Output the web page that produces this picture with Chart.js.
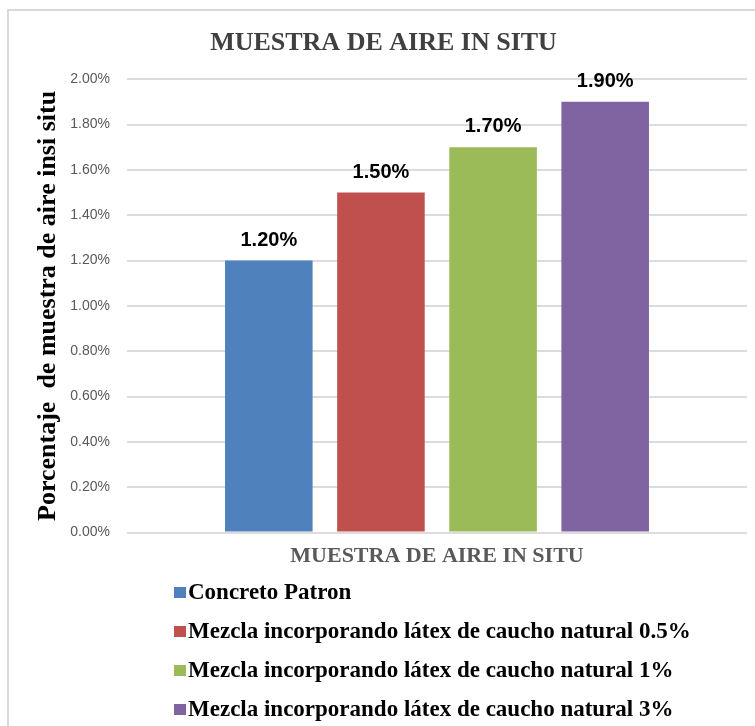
<!DOCTYPE html>
<html>
<head>
<meta charset="utf-8">
<script src="https://cdn.jsdelivr.net/npm/chart.js"></script>
<style>
  html, body { margin: 0; padding: 0; background: #fff; }
  #marco { position: absolute; left: 7px; top: 9px; width: 800px; height: 800px; border: 2px solid #d9d9d9; }
  #wrap { position: absolute; left: 0; top: 0; width: 755px; height: 726px; }
</style>
</head>
<body>
<div id="marco"></div>
<div id="wrap"><canvas id="grafico"></canvas></div>
<script>
// datos
const categorias = ['MUESTRA DE AIRE IN SITU'];
const series = [
  'Concreto Patron',
  'Mezcla incorporando látex de caucho natural 0.5%',
  'Mezcla incorporando látex de caucho natural 1%',
  'Mezcla incorporando látex de caucho natural 3%'
];
const valores = [1.20, 1.50, 1.70, 1.90]; // en %
const colores = ['#4f81bd', '#c0504d', '#9bbb59', '#8064a2'];

const serif = '"Liberation Serif", "Times New Roman", serif';
const sans = '"Liberation Sans", Arial, sans-serif';

// etiquetas encima de cada barra
const etiquetas = {
  id: 'etiquetas',
  afterDatasetsDraw(chart) {
    const ctx = chart.ctx;
    ctx.save();
    ctx.font = 'bold 20px ' + sans;
    ctx.fillStyle = '#000';
    ctx.textAlign = 'center';
    ctx.textBaseline = 'alphabetic';
    chart.data.datasets.forEach((ds, i) => {
      const bar = chart.getDatasetMeta(i).data[0];
      ctx.fillText(ds.data[0].toFixed(2) + '%', bar.x, bar.y - 15);
    });
    ctx.restore();
  }
};

// leyenda vertical debajo del eje
const leyenda = {
  id: 'leyenda',
  afterDraw(chart) {
    const ctx = chart.ctx;
    const x0 = chart.chartArea.left + 47;
    let y = chart.scales.x.bottom + 19;
    ctx.save();
    ctx.font = 'bold 23px ' + serif;
    ctx.textBaseline = 'middle';
    ctx.textAlign = 'left';
    chart.data.datasets.forEach((ds) => {
      ctx.fillStyle = ds.backgroundColor;
      ctx.fillRect(x0, y - 5, 12, 11);
      ctx.fillStyle = '#000';
      ctx.fillText(ds.label, x0 + 14, y + 1);
      y += 39;
    });
    ctx.restore();
  }
};

const ctx = document.getElementById('grafico').getContext('2d');
const grafico = new Chart(ctx, {
  type: 'bar',
  data: {
    labels: categorias,
    datasets: series.map((s, i) => ({
      label: s,
      data: [valores[i]],
      backgroundColor: colores[i],
      categoryPercentage: 0.7234,
      barPercentage: 0.781
    }))
  },
  options: {
    responsive: true,
    maintainAspectRatio: false,
    animation: false,
    layout: { padding: { left: 20, right: 8, top: 0, bottom: 153 } },
    plugins: {
      legend: { display: false },
      tooltip: { enabled: false },
      title: {
        display: true,
        text: 'MUESTRA DE AIRE IN SITU',
        color: '#404040',
        font: { family: serif, size: 26, weight: 'bold' },
        padding: { top: 28, bottom: 20 }
      }
    },
    scales: {
      x: {
        grid: { display: false },
        border: { display: false },
        ticks: {
          color: '#595959',
          padding: 3,
          font: { family: serif, size: 22, weight: 'bold' }
        }
      },
      y: {
        min: 0,
        max: 2,
        afterFit: (scale) => { scale.width = 107; },
        grid: { color: '#dcdcdc', lineWidth: 2, drawTicks: false },
        border: { display: false },
        ticks: {
          stepSize: 0.2,
          padding: 17,
          color: '#595959',
          font: { family: sans, size: 14 },
          callback: (v) => v.toFixed(2) + '%'
        },
        title: {
          display: true,
          text: 'Porcentaje  de muestra de aire insi situ',
          color: '#000',
          font: { family: serif, size: 26, weight: 'bold' },
          padding: { top: 13, bottom: 6 }
        }
      }
    }
  },
  plugins: [etiquetas, leyenda]
});
</script>
</body>
</html>
